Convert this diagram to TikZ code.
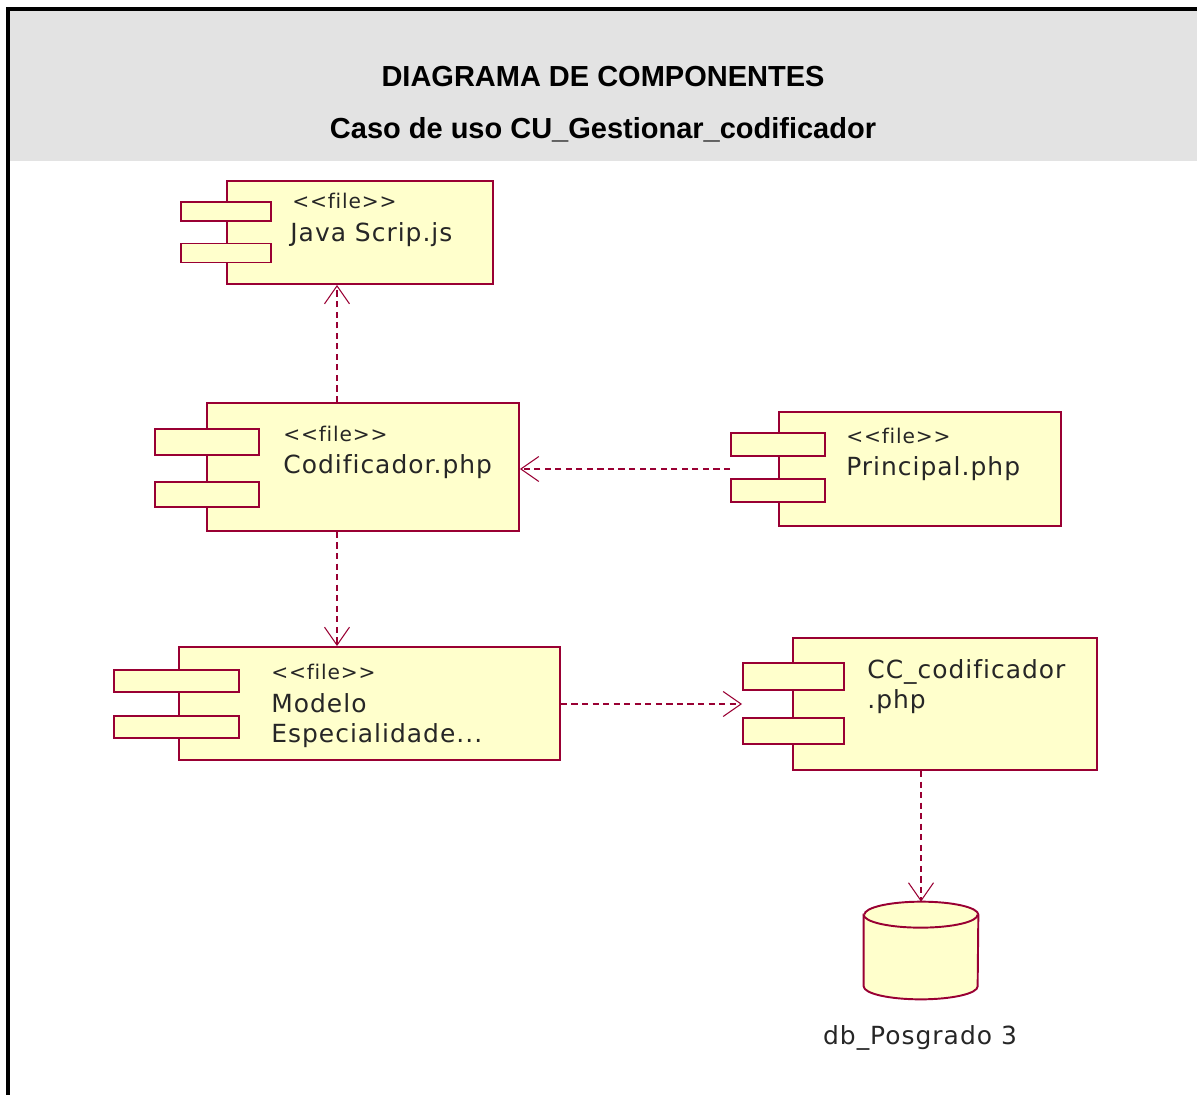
\documentclass[tikz,border=0pt]{standalone}
\usepackage{fontspec}
\setmainfont{DejaVu Sans}[LetterSpace=4,Ligatures=NoCommon]
\newfontfamily\titlefont{Liberation Sans}
\usetikzlibrary{arrows.meta}
\definecolor{umlred}{RGB}{153,0,51}
\definecolor{umlfill}{RGB}{255,255,204}
\definecolor{headgray}{RGB}{227,227,227}
\tikzset{
  comp/.style={draw=umlred, fill=umlfill, line width=1.1pt, inner sep=0pt},
  tab/.style={comp},
  dep/.style={draw=umlred, line width=1.1pt, dash pattern=on 3.5pt off 2.5pt,
    -{Straight Barb[length=0.36cm, width=0.5cm, line width=0.6pt]}},
  lbl/.style={anchor=base west, inner sep=0pt, text=black!85, font=\fontsize{14.2}{17}\selectfont},
  stereo/.style={lbl, font=\fontsize{11.5}{14}\selectfont},
  ttl/.style={anchor=base, inner sep=0pt, font=\titlefont\bfseries\fontsize{16.5}{20}\selectfont}
}
\begin{document}
\begin{tikzpicture}[x=0.02cm,y=-0.02cm]
		\useasboundingbox (0,0) rectangle (1197,1095);
		\fill[headgray] (9,10) rectangle (1197,161);
		\draw[line width=1.9pt] (8,1095) -- (8,9) -- (1197,9);
		\node[ttl] (t1) at (603,87) {DIAGRAMA DE COMPONENTES};
		\node[ttl] (t2) at (603,138) {Caso de uso CU\_Gestionar\_codificador};
		
		\node[comp, minimum width=5.32cm, minimum height=2.06cm] (js) at (360,232.5) {};
		\node[tab, minimum width=1.8cm, minimum height=0.38cm] (js1) at (226,211.5) {};
		\node[tab, minimum width=1.8cm, minimum height=0.38cm] (js2) at (226,253) {};
		\node[stereo] (jss) at (292,208) {<{}<file>{}>};
		\node[lbl] (jsn) at (290,241) {Java Scrip.js};
		
		\node[comp, minimum width=6.24cm, minimum height=2.56cm] (cod) at (363,467) {};
		\node[tab, minimum width=2.08cm, minimum height=0.52cm] (cod1) at (207,442) {};
		\node[tab, minimum width=2.08cm, minimum height=0.5cm] (cod2) at (207,494.5) {};
		\node[stereo] (cods) at (283,441) {<{}<file>{}>};
		\node[lbl] (codn) at (283,473) {Codificador.php};
		
		\node[comp, minimum width=5.64cm, minimum height=2.28cm] (pr) at (920,469) {};
		\node[tab, minimum width=1.88cm, minimum height=0.46cm] (pr1) at (778,444.5) {};
		\node[tab, minimum width=1.88cm, minimum height=0.46cm] (pr2) at (778,490.5) {};
		\node[stereo] (prs) at (846,443) {<{}<file>{}>};
		\node[lbl] (prn) at (846,475) {Principal.php};
		
		\node[comp, minimum width=7.62cm, minimum height=2.26cm] (mod) at (369.5,703.5) {};
		\node[tab, minimum width=2.5cm, minimum height=0.44cm] (mod1) at (176.5,681) {};
		\node[tab, minimum width=2.5cm, minimum height=0.44cm] (mod2) at (176.5,727) {};
		\node[stereo] (mods) at (271,679) {<{}<file>{}>};
		\node[lbl] (modn) at (271,712) {Modelo};
		\node[lbl] (mode) at (271,742) {Especialidade...};
		
		\node[comp, minimum width=6.08cm, minimum height=2.64cm] (cc) at (945,704) {};
		\node[tab, minimum width=2.02cm, minimum height=0.54cm] (cc1) at (793.5,676.5) {};
		\node[tab, minimum width=2.02cm, minimum height=0.52cm] (cc2) at (793.5,731) {};
		\node[lbl] (ccn) at (867,678) {CC\_codificador};
		\node[lbl] (ccp) at (867,708) {.php};
		
		\node[minimum width=2.28cm, minimum height=1.94cm, inner sep=0pt] (db) at (921,950.5) {};
		\filldraw[comp] ([yshift=-0.26cm]db.north west) -- ([yshift=0.26cm]db.south west)
			arc[start angle=180, end angle=360, x radius=1.14cm, y radius=0.26cm]
			-- ([yshift=-0.26cm]db.north east)
			arc[start angle=0, end angle=180, x radius=1.14cm, y radius=0.26cm] -- cycle;
		\draw[comp] ([yshift=-0.26cm]db.north west)
			arc[start angle=180, end angle=360, x radius=1.14cm, y radius=0.26cm];
		\node[lbl, anchor=base] (dbn) at (920,1044) {db\_Posgrado 3};
		
		\coordinate (ax) at (337,0);
		\draw[dep] (ax |- cod.north) -- (ax |- js.south);
		\draw[dep] (ax |- cod.south) -- (ax |- mod.north);
		\draw[dep] (pr.west -| pr1.west) -- (pr.west -| cod.east);
		\draw[dep] (cc.west -| mod.east) -- (cc.west -| cc1.west);
		\draw[dep] (db.north |- cc.south) -- (db.north);
\end{tikzpicture}
\end{document}
